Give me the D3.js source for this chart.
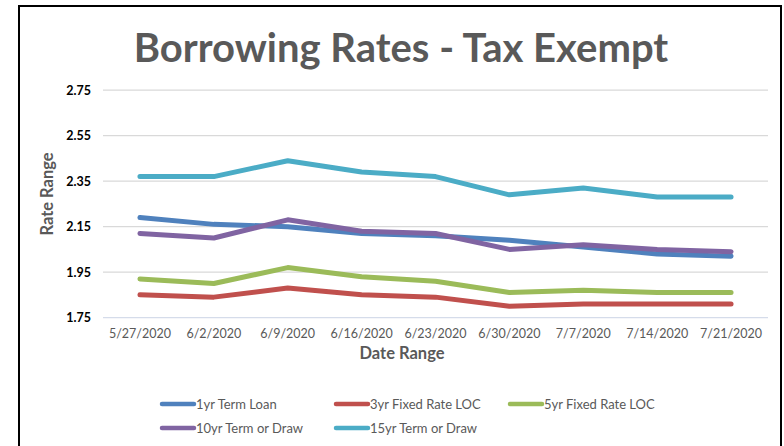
<!DOCTYPE html>
<html>
<head>
<meta charset="utf-8">
<script src="https://cdn.jsdelivr.net/npm/d3@7"></script>
<style>
  body { margin: 0; background: #fff; }
  svg { display: block; font-family: Lato, "Open Sans", sans-serif; }
</style>
</head>
<body>
<div id="chart"></div>
<script>
// dates on the x axis
var dates = ["5/27/2020", "6/2/2020", "6/9/2020", "6/16/2020", "6/23/2020",
  "6/30/2020", "7/7/2020", "7/14/2020", "7/21/2020"];

// rates
var termLoan1 = [2.19, 2.16, 2.15, 2.12, 2.11, 2.09, 2.06, 2.03, 2.02];
var fixedLoc3 = [1.85, 1.84, 1.88, 1.85, 1.84, 1.80, 1.81, 1.81, 1.81];
var fixedLoc5 = [1.92, 1.90, 1.97, 1.93, 1.91, 1.86, 1.87, 1.86, 1.86];
var termDraw10 = [2.12, 2.10, 2.18, 2.13, 2.12, 2.05, 2.07, 2.05, 2.04];
var termDraw15 = [2.37, 2.37, 2.44, 2.39, 2.37, 2.29, 2.32, 2.28, 2.28];

var seriesNames = ["1yr Term Loan", "3yr Fixed Rate LOC", "5yr Fixed Rate LOC",
  "10yr Term or Draw", "15yr Term or Draw"];
var yTicks = [1.75, 1.95, 2.15, 2.35, 2.55, 2.75];

var colors = ["#4f81bd", "#c0504d", "#9bbb59", "#8064a2", "#4bacc6"];
var series = [termLoan1, fixedLoc3, fixedLoc5, termDraw10, termDraw15];

var W = 784, H = 446;
var plot = {left: 103, right: 768, top: 90.2, bottom: 317.6};

var svg = d3.select("#chart").append("svg")
  .attr("width", W)
  .attr("height", H);

// outer frame
svg.append("rect")
  .attr("x", 19).attr("y", 6)
  .attr("width", 762).attr("height", 470)
  .attr("fill", "#fff")
  .attr("stroke", "#000")
  .attr("stroke-width", 2);

// scales
var x = d3.scaleBand()
  .domain(dates)
  .range([plot.left, plot.right]);

var y = d3.scaleLinear()
  .domain([1.75, 2.75])
  .range([plot.bottom, plot.top]);

// gridlines
svg.append("g")
  .selectAll("line")
  .data(yTicks)
  .enter().append("line")
  .attr("x1", plot.left).attr("x2", plot.right)
  .attr("y1", function(d) { return y(d); })
  .attr("y2", function(d) { return y(d); })
  .attr("stroke", function(d) { return d === 1.75 ? "#d5dcea" : "#d9d9d9"; })
  .attr("stroke-width", 1.3);

// y axis labels
var yAxis = d3.axisLeft(y).tickValues(yTicks).tickSize(0).tickPadding(12)
  .tickFormat(d3.format(".2f"));
var gy = svg.append("g")
  .attr("transform", "translate(" + plot.left + ",0)")
  .call(yAxis);
gy.select(".domain").remove();
gy.selectAll("text")
  .attr("font-family", "Lato, sans-serif")
  .attr("font-size", 12.5)
  .attr("font-weight", 700)
  .attr("fill", "#000");

// x axis labels
var xAxis = d3.axisBottom(x).tickSize(0).tickPadding(12);
var gx = svg.append("g")
  .attr("transform", "translate(0," + plot.bottom + ")")
  .call(xAxis);
gx.select(".domain").remove();
gx.selectAll("text")
  .attr("font-family", "Lato, sans-serif")
  .attr("font-size", 12.5)
  .attr("fill", "#595959");

// lines
var line = d3.line()
  .x(function(d, i) { return x(dates[i]) + x.bandwidth() / 2; })
  .y(function(d) { return y(d); });

svg.append("g")
  .selectAll("path")
  .data(series)
  .enter().append("path")
  .attr("d", line)
  .attr("fill", "none")
  .attr("stroke", function(d, i) { return colors[i]; })
  .attr("stroke-width", 5)
  .attr("stroke-linecap", "round")
  .attr("stroke-linejoin", "round");

// title
svg.append("text")
  .attr("x", 401).attr("y", 62)
  .attr("text-anchor", "middle")
  .attr("font-family", "Lato, sans-serif")
  .attr("font-size", 40)
  .attr("font-weight", 700)
  .attr("fill", "#595959")
  .text("Borrowing Rates - Tax Exempt");

// axis titles
svg.append("text")
  .attr("transform", "translate(53,194) rotate(-90)")
  .attr("text-anchor", "middle")
  .attr("font-size", 16.5)
  .attr("font-weight", 700)
  .attr("fill", "#595959")
  .text("Rate Range");

svg.append("text")
  .attr("x", 402).attr("y", 359)
  .attr("text-anchor", "middle")
  .attr("font-size", 16.5)
  .attr("font-weight", 700)
  .attr("fill", "#595959")
  .text("Date Range");

// legend
var legend = svg.append("g")
  .selectAll("g")
  .data(seriesNames)
  .enter().append("g")
  .attr("transform", function(d, i) {
    return "translate(" + (162 + (i % 3) * 174) + "," + (404 + Math.floor(i / 3) * 24) + ")";
  });

legend.append("line")
  .attr("x1", 0).attr("x2", 32)
  .attr("stroke", function(d, i) { return colors[i]; })
  .attr("stroke-width", 4.5)
  .attr("stroke-linecap", "round");

legend.append("text")
  .attr("x", 34).attr("y", 4.5)
  .attr("font-size", 13)
  .attr("fill", "#595959")
  .text(function(d) { return d; });
</script>
</body>
</html>
